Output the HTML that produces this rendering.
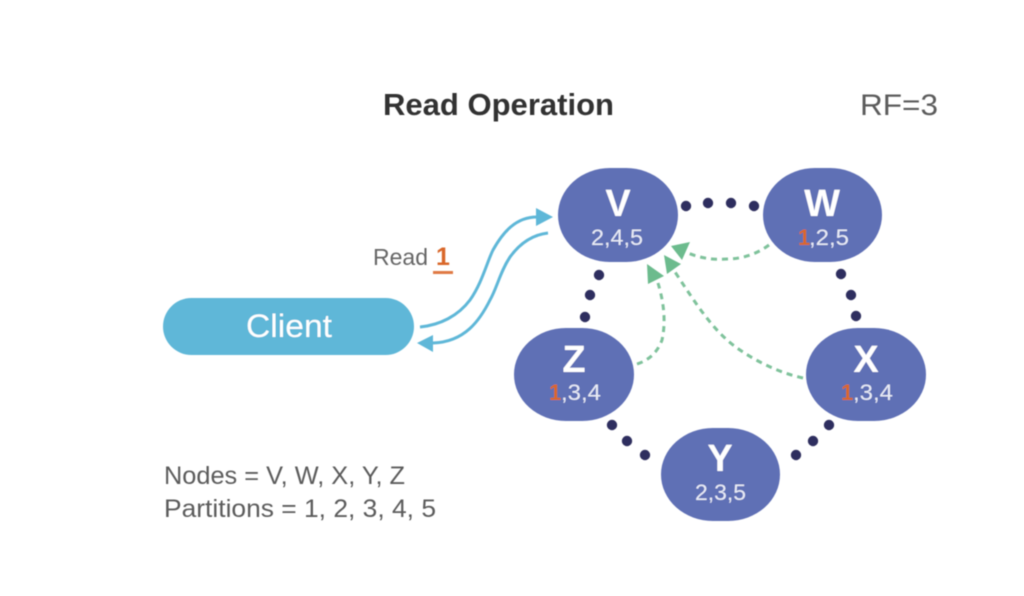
<!DOCTYPE html>
<html><head><meta charset="utf-8"><style>html,body{margin:0;padding:0;background:#fff}svg{display:block}text{font-family:"Liberation Sans",sans-serif}</style></head>
<body>
<svg width="1024" height="596" viewBox="0 0 1024 596" xmlns="http://www.w3.org/2000/svg">
<defs><filter id="b" x="-5%" y="-5%" width="110%" height="110%"><feGaussianBlur stdDeviation="0.5"/></filter></defs>
<rect width="1024" height="596" fill="#fff"/>
<g filter="url(#b)">
<text x="383" y="115" font-size="31" font-weight="bold" fill="#333" textLength="231" lengthAdjust="spacingAndGlyphs">Read Operation</text>
<text x="860" y="115" font-size="30" fill="#5c5c5c" textLength="78" lengthAdjust="spacingAndGlyphs">RF=3</text>
<rect x="163" y="298" width="251" height="57" rx="28.5" fill="#5fb7d8"/>
<text x="246" y="337" font-size="32" fill="#fff" textLength="86" lengthAdjust="spacingAndGlyphs">Client</text>
<text x="373" y="265" font-size="23" fill="#666" textLength="55" lengthAdjust="spacingAndGlyphs">Read</text>
<text x="436" y="265" font-size="25" font-weight="bold" fill="#d9672c">1</text>
<rect x="433" y="271" width="20" height="3" fill="#e07a45"/>
<text x="164" y="484" font-size="25" fill="#5c5c5c" textLength="241" lengthAdjust="spacingAndGlyphs">Nodes = V, W, X, Y, Z</text>
<text x="164" y="517" font-size="25" fill="#5c5c5c" textLength="272" lengthAdjust="spacingAndGlyphs">Partitions = 1, 2, 3, 4, 5</text>
<g fill="none" stroke="#5fb7d8" stroke-width="3">
<path d="M420 327C440 325 458 316 470 300C482 283 487 262 493 250C503 232 516 217 537 217"/>
<path d="M548 233C530 235 518 246 510 257C500 272 497 288 490 300C480 320 465 342 433 343"/>
</g>
<polygon points="536,208 553,217 536,226" fill="#5fb7d8"/>
<polygon points="417,343 433,335 433,352" fill="#5fb7d8"/>
<g fill="none" stroke="#7fc29b" stroke-width="3" stroke-dasharray="6 5">
<path d="M769 245C757 254 742 259 727 259C712 260 700 258 688 253"/>
<path d="M803 378C780 373 757 362 737 348C712 330 695 302 675 272"/>
<path d="M637 364C650 360 658 351 662 340C666 322 664 303 658 283"/>
</g>
<g fill="#6cbb8d">
<polygon points="671,246 690,242 682,260"/>
<polygon points="664,255 681,264 667,274"/>
<polygon points="647,264 664,276 648,284"/>
</g>
<g fill="#5f6fb5">
<rect x="558" y="168" width="120" height="94" rx="52" ry="47"/>
<rect x="763" y="168" width="119" height="94" rx="52" ry="47"/>
<rect x="514" y="328" width="120" height="93" rx="52" ry="46.5"/>
<rect x="806" y="328" width="120" height="93" rx="52" ry="46.5"/>
<rect x="661" y="428" width="119" height="93" rx="52" ry="46.5"/>
</g>
<g fill="#2f2f5e">
<circle cx="686" cy="206" r="5.2"/><circle cx="708" cy="203" r="5.2"/><circle cx="731" cy="203" r="5.2"/><circle cx="754" cy="206" r="5.2"/>
<circle cx="841" cy="274" r="5.2"/><circle cx="851" cy="295" r="5.2"/><circle cx="856" cy="316" r="5.2"/>
<circle cx="599" cy="275" r="5.2"/><circle cx="590" cy="295" r="5.2"/><circle cx="585" cy="317" r="5.2"/>
<circle cx="612" cy="425" r="5.2"/><circle cx="627" cy="441" r="5.2"/><circle cx="645" cy="455" r="5.2"/>
<circle cx="796" cy="455" r="5.2"/><circle cx="813" cy="441" r="5.2"/><circle cx="829" cy="425" r="5.2"/>
</g>
<g fill="#fff" font-size="38" font-weight="bold" text-anchor="middle">
<text x="618" y="216">V</text>
<text x="822" y="216">W</text>
<text x="574" y="372">Z</text>
<text x="866" y="372">X</text>
<text x="720" y="471">Y</text>
</g>
<g fill="#e8ebf6" font-size="22">
<text x="591" y="245" textLength="52" lengthAdjust="spacingAndGlyphs">2,4,5</text>
<text x="798" y="245" font-weight="bold" fill="#d9672c">1</text>
<text x="809" y="245" textLength="40" lengthAdjust="spacingAndGlyphs">,2,5</text>
<text x="549" y="400" font-weight="bold" fill="#d9672c">1</text>
<text x="561" y="400" textLength="40" lengthAdjust="spacingAndGlyphs">,3,4</text>
<text x="841" y="400" font-weight="bold" fill="#d9672c">1</text>
<text x="853" y="400" textLength="40" lengthAdjust="spacingAndGlyphs">,3,4</text>
<text x="695" y="500" textLength="51" lengthAdjust="spacingAndGlyphs">2,3,5</text>
</g>
</g>
</svg>
</body></html>
